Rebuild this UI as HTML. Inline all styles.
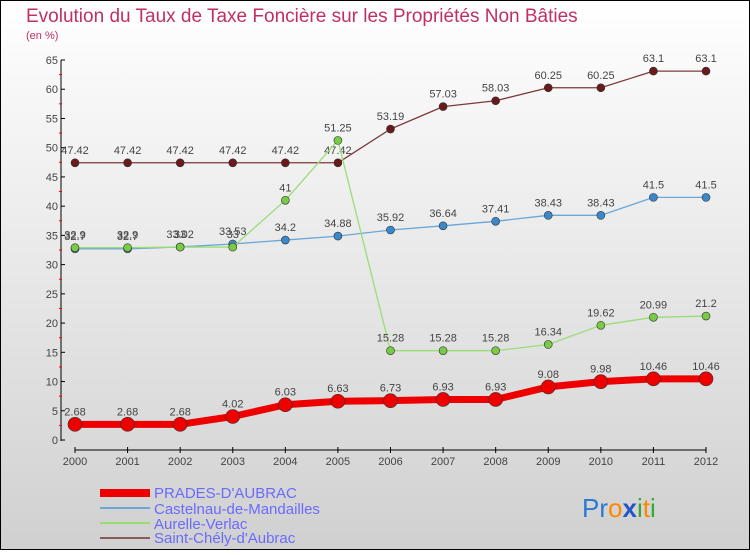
<!DOCTYPE html>
<html><head><meta charset="utf-8"><style>
body{margin:0}
#c{width:750px;height:550px;position:relative;font-family:"Liberation Sans",sans-serif;}
</style></head><body>
<div id="c">
<svg width="750" height="550" id="svg">
<defs><linearGradient id="bg" x1="0" y1="0" x2="0" y2="1"><stop offset="0" stop-color="#ffffff"/><stop offset="1" stop-color="#d0d0d0"/></linearGradient></defs>
<rect x="0.5" y="0.5" width="749" height="549" fill="url(#bg)" stroke="#000"/>
<text x="26" y="22" font-size="19" fill="#c03060">Evolution du Taux de Taxe Foncière sur les Propriétés Non Bâties</text>
<text x="26" y="39" font-size="11" fill="#c03060">(en %)</text>
<g id="axes"></g><g id="series"></g>
<g>
<rect x="100" y="489" width="50" height="8" fill="#ee0000"/>
<text x="154" y="498" font-size="15" fill="#6a6aff">PRADES-D'AUBRAC</text>
<rect x="100" y="507" width="50" height="2" fill="#6aa6d6"/>
<text x="154" y="514" font-size="15" fill="#6a6aff">Castelnau-de-Mandailles</text>
<rect x="100" y="522" width="50" height="2" fill="#99dd77"/>
<text x="154" y="529" font-size="15" fill="#6a6aff">Aurelle-Verlac</text>
<rect x="100" y="537" width="50" height="2" fill="#8a5a5a"/>
<text x="154" y="543" font-size="15" fill="#6a6aff">Saint-Chély-d'Aubrac</text>
</g>
<g font-size="26" font-family="Liberation Sans, sans-serif">
<text x="582" y="517"><tspan fill="#2a7ad0">Pr</tspan><tspan fill="#ff8800">o</tspan><tspan fill="#2255cc" font-weight="bold">x</tspan><tspan fill="#33aa33">i</tspan><tspan fill="#ff8800">t</tspan><tspan fill="#33aa33">i</tspan></text>
</g>
</svg>
</div>
<script>
const years=["2000","2001","2002","2003","2004","2005","2006","2007","2008","2009","2010","2011","2012"];
const yTicks=[0,5,10,15,20,25,30,35,40,45,50,55,60,65];
const prades=[2.68,2.68,2.68,4.02,6.03,6.63,6.73,6.93,6.93,9.08,9.98,10.46,10.46];
const castelnau=[32.7,32.7,33.02,33.53,34.2,34.88,35.92,36.64,37.41,38.43,38.43,41.5,41.5];
const aurelle=[32.9,32.9,33,33,41,51.25,15.28,15.28,15.28,16.34,19.62,20.99,21.2];
const saintChely=[47.42,47.42,47.42,47.42,47.42,47.42,53.19,57.03,58.03,60.25,60.25,63.1,63.1];
const NS="http://www.w3.org/2000/svg";
const X=i=>75+i*(706-75)/(years.length-1);
const Y=v=>440-v*(440-60)/65;
function mk(t,a,p){const e=document.createElementNS(NS,t);for(const k in a)e.setAttribute(k,a[k]);p.appendChild(e);return e;}
const ax=document.getElementById('axes');
const yl=mk('line',{x1:61,y1:60,x2:61,y2:441,stroke:'#000','stroke-width':1},ax);


yTicks.forEach(v=>{
 mk('line',{x1:61,x2:65,y1:Y(v),y2:Y(v),stroke:'#000'},ax);
 if(v<65)mk('line',{x1:59,x2:62,y1:Y(v+2.5),y2:Y(v+2.5),stroke:'#f00'},ax);
 const t=mk('text',{x:58,y:Y(v)+4,'text-anchor':'end','font-size':11,fill:'#444'},ax);t.textContent=v;
 
 
});
const xl=mk('line',{x1:75,y1:450,x2:706,y2:450,stroke:'#000'},ax);


years.forEach((y,i)=>{
 mk('line',{x1:X(i),x2:X(i),y1:447,y2:453,stroke:'#000'},ax);
 const t=mk('text',{x:X(i),y:465,'text-anchor':'middle','font-size':11,fill:'#444'},ax);t.textContent=y;
 
 
});
const sg=document.getElementById('series');
function draw(data,name,color,w,r,fill){
 const g=mk('g',{},sg);
 
 
 const p=mk('polyline',{points:data.map((v,i)=>X(i)+','+Y(v)).join(' '),fill:'none',stroke:color,'stroke-width':w,'stroke-linejoin':'round'},g);
 
 
 data.forEach((v,i)=>{
  const c=mk('circle',{cx:X(i),cy:Y(v),r:r,fill:fill,stroke:'#333','stroke-width':0.6},g);
  
  
  const t=mk('text',{x:X(i),y:Y(v)-9,'text-anchor':'middle','font-size':11,fill:'#444'},g);t.textContent=v;
  
  
 });
}
draw(saintChely,'saint-chely','#7a3a3a',1.3,4,'#6a1a1a');
draw(castelnau,'castelnau','#6aa6d6',1.3,4,'#3a88cc');
draw(aurelle,'aurelle','#99dd77',1.3,4,'#77cc44');
draw(prades,'prades','#ee0000',7,7,'#ee0000');
</script>
</body></html>
